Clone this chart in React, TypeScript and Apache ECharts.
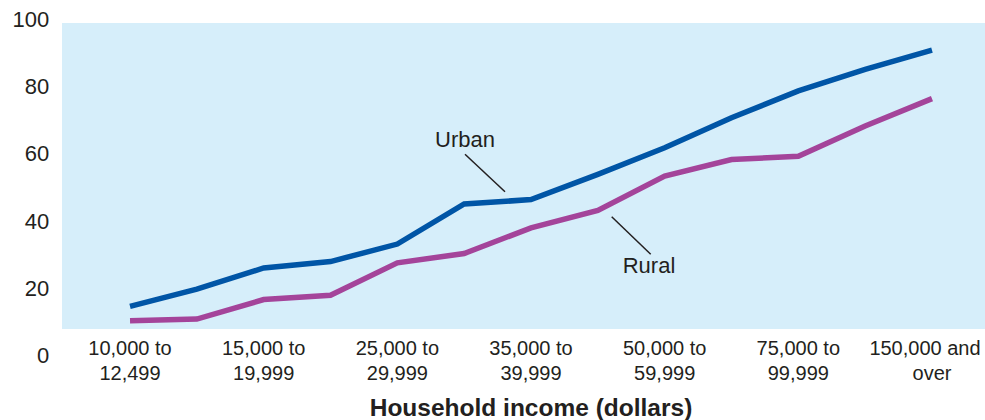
import React, { useEffect, useRef } from "react";
import * as echarts from "echarts";

const categories = [
  "10,000 to\n12,499",
  "12,500 to\n14,999",
  "15,000 to\n19,999",
  "20,000 to\n24,999",
  "25,000 to\n29,999",
  "30,000 to\n34,999",
  "35,000 to\n39,999",
  "40,000 to\n49,999",
  "50,000 to\n59,999",
  "60,000 to\n74,999",
  "75,000 to\n99,999",
  "100,000 to\n149,999",
  "150,000 and\nover",
];
const urban = [14.7, 19.8, 26.1, 28.0, 33.2, 45.1, 46.4, 53.9, 61.8, 70.7, 78.7, 85.1, 90.8];
const rural = [10.4, 10.9, 16.7, 18.0, 27.6, 30.4, 38.0, 43.2, 53.4, 58.3, 59.3, 68.3, 76.4];
const yTicks = [0, 20, 40, 60, 80, 100];

const FONT = "'Liberation Sans', Arial, Helvetica, sans-serif";
const TEXT = "#231f20";

export default function App() {
  const ref = useRef<HTMLDivElement>(null);
  useEffect(() => {
    if (!ref.current) return;
    const chart = echarts.init(ref.current, null, { renderer: "svg" });
    const labelStyle = {
      color: TEXT,
      fontFamily: FONT,
      fontSize: 20,
      lineHeight: 25,
    };
    chart.setOption({
      animation: false,
      backgroundColor: "#ffffff",
      grid: {
        left: 96.6,
        right: 19.6,
        top: 19.2,
        bottom: 64.2,
        containLabel: false,
        outerBoundsMode: "none",
      },
      graphic: [
        {
          type: "rect",
          z: -10,
          silent: true,
          shape: { x: 62, y: 23, width: 923, height: 306 },
          style: { fill: "#d6eefa" },
        },
        {
          type: "text",
          x: 465,
          y: 139,
          style: {
            text: "Urban",
            fill: TEXT,
            font: `22px ${FONT}`,
            align: "center",
            verticalAlign: "middle",
          },
        },
        {
          type: "line",
          shape: { x1: 465, y1: 154.3, x2: 505, y2: 191.7 },
          style: { stroke: TEXT, lineWidth: 1.5 },
        },
        {
          type: "text",
          x: 649,
          y: 265.5,
          style: {
            text: "Rural",
            fill: TEXT,
            font: `22px ${FONT}`,
            align: "center",
            verticalAlign: "middle",
          },
        },
        {
          type: "line",
          shape: { x1: 611.7, y1: 216.7, x2: 650.7, y2: 254.3 },
          style: { stroke: TEXT, lineWidth: 1.5 },
        },
      ],
      xAxis: {
        type: "category",
        data: categories,
        boundaryGap: true,
        axisLine: { show: false },
        axisTick: { show: false },
        splitLine: { show: false },
        axisLabel: {
          interval: 1,
          margin: -20.8,
          ...labelStyle,
          verticalAlign: "top",
          align: "center",
          hideOverlap: false,
          formatter: (value: string, index: number) => {
            if (index === categories.length - 1) {
              const parts = value.split("\n");
              return `{p|${parts[0]}}\n{n|${parts[1]}}`;
            }
            return value;
          },
          rich: {
            p: { ...labelStyle, padding: [0, 14, 0, 0] },
            n: { ...labelStyle },
          },
        },
        name: "Household income (dollars)",
        nameLocation: "middle",
        nameGap: 52,
        nameTextStyle: {
          color: TEXT,
          fontFamily: FONT,
          fontSize: 24.5,
          fontWeight: "bold",
          verticalAlign: "middle",
        },
      },
      yAxis: {
        type: "value",
        min: yTicks[0],
        max: yTicks[yTicks.length - 1],
        interval: 20,
        axisLine: { show: false },
        axisTick: { show: false },
        splitLine: { show: false },
        axisLabel: {
          margin: 47.3,
          color: TEXT,
          fontFamily: FONT,
          fontSize: 22,
        },
      },
      series: [
        {
          name: "Urban",
          type: "line",
          data: urban,
          symbol: "none",
          lineStyle: { color: "#0055a6", width: 5.5, cap: "butt", join: "miter" },
          z: 3,
        },
        {
          name: "Rural",
          type: "line",
          data: rural,
          symbol: "none",
          lineStyle: { color: "#a4449a", width: 5.5, cap: "butt", join: "miter" },
          z: 2,
        },
      ],
    });
    return () => chart.dispose();
  }, []);
  return (
    <div
      ref={ref}
      style={{ position: "fixed", left: 0, top: 0, width: 985, height: 420 }}
    />
  );
}
